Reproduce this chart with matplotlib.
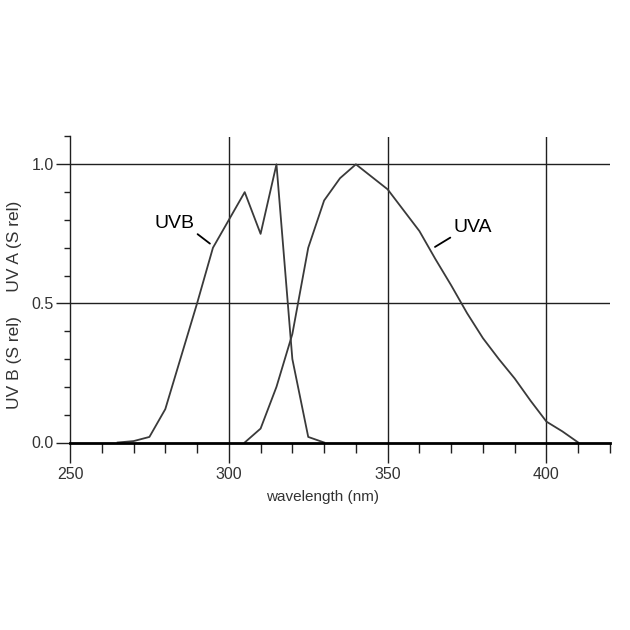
import matplotlib
matplotlib.use("Agg")
import matplotlib.pyplot as plt
from matplotlib.ticker import FixedLocator
from matplotlib import font_manager as fm

# Data
uvb_wl = [265, 270, 275, 280, 285, 290, 295, 300, 305, 310, 315, 320, 325, 330]
uvb_val = [0.0, 0.005, 0.02, 0.12, 0.31, 0.50, 0.70, 0.80, 0.90, 0.75, 1.0, 0.30, 0.02, 0.0]

uva_wl = [305, 310, 315, 320, 325, 330, 335, 340, 345, 350, 355, 360, 365, 370,
          375, 380, 385, 390, 395, 400, 405, 410]
uva_val = [0.0, 0.05, 0.20, 0.39, 0.70, 0.87, 0.95, 1.0, 0.955, 0.91, 0.835, 0.76,
           0.66, 0.565, 0.465, 0.375, 0.30, 0.23, 0.15, 0.075, 0.04, 0.0]

x_major = [250, 300, 350, 400]
x_labels = ["250", "300", "350", "400"]
y_major = [0.0, 0.5, 1.0]
y_labels = ["0.0", "0.5", "1.0"]

names = {f.name for f in fm.fontManager.ttflist}
has_narrow = "Liberation Sans Narrow" in names
if has_narrow:
    NARROW = ["Liberation Sans Narrow", "DejaVu Sans"]
    tick_fs, lab_fs, ann_fs = 12.5, 12.5, 16
else:
    NARROW = ["Liberation Sans", "DejaVu Sans"]
    tick_fs, lab_fs, ann_fs = 11.5, 11, 14
REG = ["Liberation Sans", "DejaVu Sans"]
TXT = "#333333"
LINE = "#3a3a3a"

fig = plt.figure(figsize=(6.3, 6.3), dpi=100)
fig.patch.set_facecolor("white")
ax = fig.add_axes([70/630, 187.5/630, 540/630, 306/630])
ax.set_xlim(250, 420)
ax.set_ylim(0, 1.1)

for s in ["top", "right"]:
    ax.spines[s].set_visible(False)
ax.spines["left"].set_linewidth(1.0)
ax.spines["left"].set_color("#202020")
ax.spines["bottom"].set_linewidth(2.0)
ax.spines["bottom"].set_color("black")
ax.spines["bottom"].set_zorder(5)

# grid lines
for gx in [300, 350, 400]:
    ax.axvline(gx, color="#202020", lw=1.0, zorder=1)
for gy in [0.5, 1.0]:
    ax.axhline(gy, color="#202020", lw=1.0, zorder=1)

ax.plot(uvb_wl, uvb_val, color=LINE, lw=1.3, zorder=3)
ax.plot(uva_wl, uva_val, color=LINE, lw=1.3, zorder=3)

ax.xaxis.set_major_locator(FixedLocator(x_major))
ax.set_xticklabels(x_labels)
ax.xaxis.set_minor_locator(FixedLocator([v for v in range(260, 421, 10) if v not in x_major]))
ax.yaxis.set_major_locator(FixedLocator(y_major))
ax.set_yticklabels(y_labels)
ax.yaxis.set_minor_locator(FixedLocator([0.1, 0.2, 0.3, 0.4, 0.6, 0.7, 0.8, 0.9, 1.1]))

ax.tick_params(axis="x", which="major", direction="out", length=14.4, width=1.0,
               color="#202020", pad=3, labelcolor=TXT, labelsize=tick_fs)
ax.tick_params(axis="x", which="minor", direction="out", length=7, width=1.0, color="#202020")
ax.tick_params(axis="y", which="major", direction="out", length=10, width=1.0,
               color="#202020", pad=1.5, labelcolor=TXT, labelsize=tick_fs)
ax.tick_params(axis="y", which="minor", direction="out", length=4.3, width=1.0, color="#202020")
for lab in ax.get_xticklabels() + ax.get_yticklabels():
    lab.set_family(NARROW)

# x axis title
ax.text((323 - 70) / 540, -(501 - 442.5) / 306, "wavelength (nm)", transform=ax.transAxes,
        ha="center", va="baseline", family=NARROW, fontsize=lab_fs, color=TXT)
# y axis title
fig.text(15/630, 1 - 305/630, "UV B (S rel)     UV A (S rel)", rotation=90,
         ha="center", va="center", family=REG, fontsize=12.5, color=TXT)

# labels with leader lines
ax.annotate("UVB", xy=(294.05, 0.715), xytext=(276.7, 0.771), family=NARROW,
            fontsize=ann_fs, color="black", ha="left", va="baseline",
            arrowprops=dict(arrowstyle="-", color="black", lw=1.3,
                            shrinkA=0, shrinkB=0, relpos=(1.0, 0.0)))
ax.annotate("UVA", xy=(364.9, 0.703), xytext=(370.6, 0.757), family=NARROW,
            fontsize=ann_fs, color="black", ha="left", va="baseline",
            arrowprops=dict(arrowstyle="-", color="black", lw=1.3,
                            shrinkA=0, shrinkB=0, relpos=(0.0, 0.0)))

fig.savefig("out.png", dpi=100, facecolor="white")
